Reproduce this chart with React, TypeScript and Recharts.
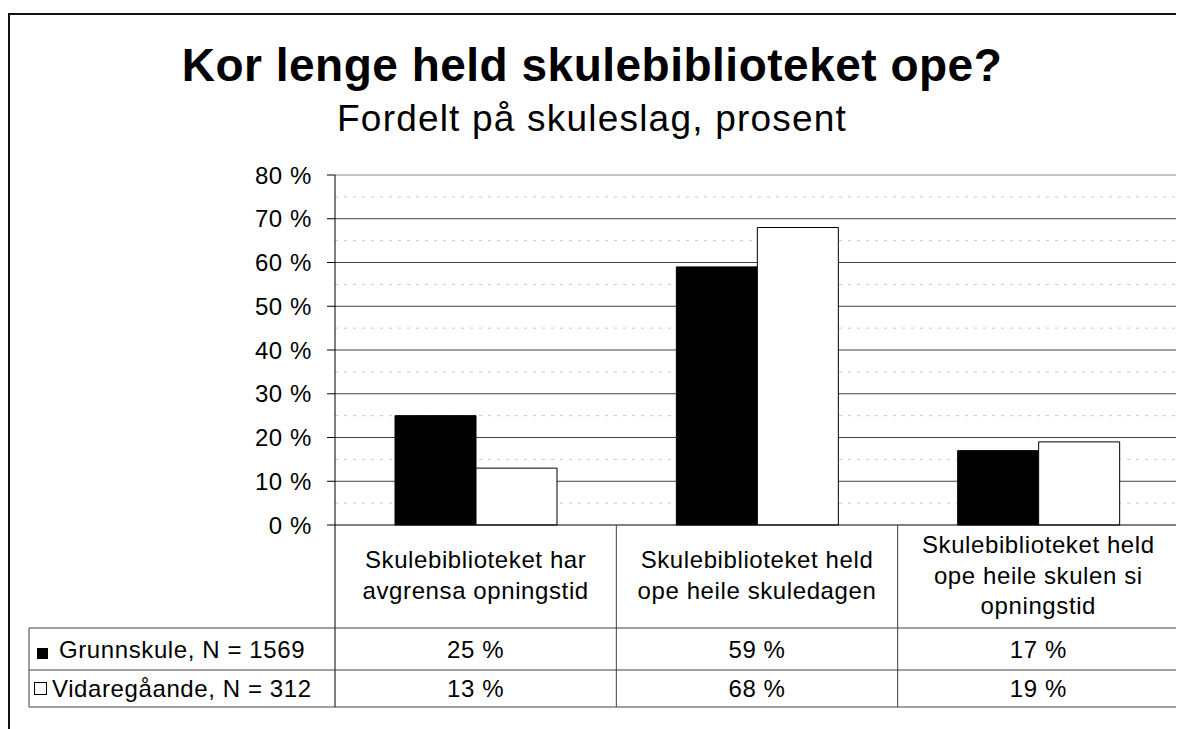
import { BarChart, Bar, XAxis, YAxis, CartesianGrid } from "recharts";

const categoryLines = [
  ["Skulebiblioteket har", "avgrensa opningstid"],
  ["Skulebiblioteket held", "ope heile skuledagen"],
  ["Skulebiblioteket held", "ope heile skulen si", "opningstid"],
];
const grunnskule = [25, 59, 17];
const vidaregaande = [13, 68, 19];
const seriesNames = ["Grunnskule, N = 1569", "Vidaregåande, N = 312"];
const majorTicks = [0, 10, 20, 30, 40, 50, 60, 70, 80];
const minorTicks = [5, 15, 25, 35, 45, 55, 65, 75];

const data = categoryLines.map((lines, i) => ({
  name: lines.join(" "),
  grunnskule: grunnskule[i],
  vidaregaande: vidaregaande[i],
}));

const FONT = '"Liberation Sans", Arial, sans-serif';
const W = 1176;
const H = 721;
const MARGIN = { top: 167, right: 5, left: 0, bottom: 14 };
const YAXIS_W = 327;
const XAXIS_H = 190;
const PLOT_W = W - MARGIN.left - MARGIN.right - YAXIS_W;
const HALF_BAND = PLOT_W / categoryLines.length / 2;
const PLOT_RIGHT = MARGIN.left + YAXIS_W + PLOT_W;
const LINE = "#404040";
const TXT = 24;

function TableTick(props: any) {
  const { x, y, index } = props;
  const lines = categoryLines[index];
  const lineGap = 30.5;
  const center = y + 50;
  const first = center - ((lines.length - 1) * lineGap) / 2;
  const rows = [
    { v: grunnskule[index], cy: y + 124 },
    { v: vidaregaande[index], cy: y + 163.5 },
  ];
  return (
    <g>
      {index === 0 && (
        <g>
          <line x1={x - HALF_BAND} x2={x - HALF_BAND} y1={y} y2={y + 182} stroke="#000" />
          {[103, 145, 182].map((d) => (
            <line key={d} x1={21} x2={PLOT_RIGHT} y1={y + d} y2={y + d} stroke={LINE} />
          ))}
          <line x1={21} x2={21} y1={y + 103} y2={y + 182} stroke={LINE} />
          <rect x={29} y={y + 123} width={11} height={11} fill="#000" />
          <rect x={26.5} y={y + 157.5} width={12} height={12} fill="#fff" stroke="#000" />
          <text x={51} y={y + 124 + 8.5} fontSize={TXT} fontFamily={FONT} fill="#000" letterSpacing={0.6}>
            {seriesNames[0]}
          </text>
          <text x={44} y={y + 163.5 + 8.5} fontSize={TXT} fontFamily={FONT} fill="#000" letterSpacing={0.6}>
            {seriesNames[1]}
          </text>
        </g>
      )}
      <line x1={x + HALF_BAND} x2={x + HALF_BAND} y1={y} y2={y + 182} stroke={LINE} />
      {lines.map((t, i) => (
        <text
          key={t}
          x={x}
          y={first + i * lineGap + 8.5}
          textAnchor="middle"
          fontSize={TXT}
          fontFamily={FONT}
          fill="#000"
          letterSpacing={0.6}
        >
          {t}
        </text>
      ))}
      {rows.map((r, i) => (
        <text
          key={i}
          x={x}
          y={r.cy + 8.5}
          textAnchor="middle"
          fontSize={TXT}
          fontFamily={FONT}
          fill="#000"
          letterSpacing={0.6}
        >
          {`${r.v} %`}
        </text>
      ))}
    </g>
  );
}

export default function App() {
  return (
    <div style={{ position: "relative", width: W, height: H, overflow: "hidden", fontFamily: FONT }}>
      <div
        style={{
          position: "absolute",
          left: 0,
          top: 5,
          width: 1300,
          height: 900,
          borderTop: "2px solid #111",
          borderLeft: "2px solid #111",
        }}
      />
      <div
        style={{
          position: "absolute",
          left: 0,
          top: 34,
          width: 1168,
          textAlign: "center",
          fontSize: 46,
          fontWeight: "bold",
          lineHeight: 1,
          letterSpacing: 0.5,
          color: "#000",
        }}
      >
        Kor lenge held skulebiblioteket ope?
      </div>
      <div
        style={{
          position: "absolute",
          left: 0,
          top: 92,
          width: 1168,
          textAlign: "center",
          fontSize: 37,
          lineHeight: 1,
          letterSpacing: 1.2,
          color: "#000",
        }}
      >
        Fordelt på skuleslag, prosent
      </div>
      <div style={{ position: "absolute", left: 0, top: 0 }}>
        <BarChart width={W} height={H} data={data} margin={MARGIN} barGap={0} barSize={81}>
          <CartesianGrid
            vertical={false}
            horizontalValues={minorTicks}
            stroke="#c8c8c8"
            strokeDasharray="3 6"
          />
          <CartesianGrid
            vertical={false}
            horizontalValues={majorTicks.slice(1, -1)}
            stroke={LINE}
          />
          <CartesianGrid
            horizontalValues={[80]}
            verticalPoints={[PLOT_RIGHT]}
            stroke="#8a8a8a"
          />
          <XAxis
            dataKey="name"
            height={XAXIS_H}
            axisLine={{ stroke: "#000" }}
            tickLine={false}
            tickSize={0}
            tickMargin={0}
            interval={0}
            tick={<TableTick />}
          />
          <YAxis
            width={YAXIS_W}
            domain={[0, 80]}
            ticks={majorTicks}
            interval={0}
            tickFormatter={(v: number) => `${v} %`}
            axisLine={{ stroke: "#000" }}
            tickLine={{ stroke: "#000" }}
            tickSize={8}
            tickMargin={15}
            tick={{ fontSize: TXT, fontFamily: FONT, fill: "#000", letterSpacing: 0.6 }}
          />
          <Bar dataKey="grunnskule" name={seriesNames[0]} fill="#000" stroke="#000" isAnimationActive={false} />
          <Bar dataKey="vidaregaande" name={seriesNames[1]} fill="#fff" stroke="#000" isAnimationActive={false} />
        </BarChart>
      </div>
    </div>
  );
}
